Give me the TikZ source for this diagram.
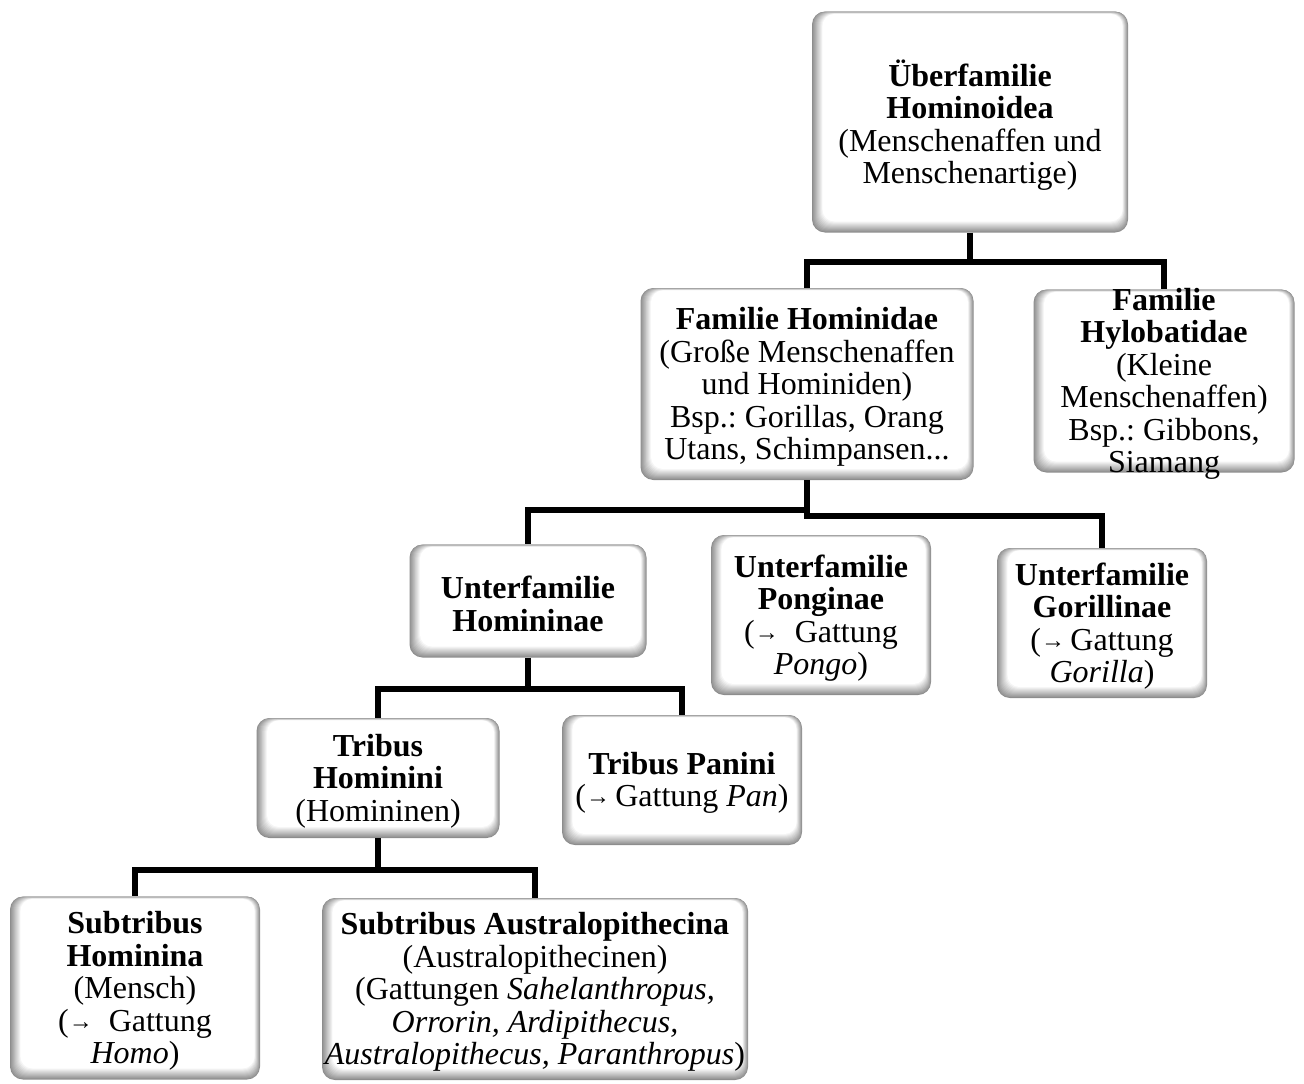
\documentclass[tikz,border=0pt]{standalone}
\usepackage{fontspec}
\setmainfont{Liberation Serif}
\usepackage{tikz}
\usetikzlibrary{calc}
\frenchspacing

\tikzset{
  taxon/.style={rounded corners=13pt, fill=black!45, inner sep=0pt,
    path picture={
      \foreach \i in {1,...,11}{
        \pgfmathsetmacro\shadeval{44-4*\i}
        \fill[black!\shadeval, rounded corners=12pt]
          ([xshift=\i*0.95pt, yshift=\i*1.0pt]path picture bounding box.south west)
          rectangle ([xshift=-\i*0.5pt, yshift=-\i*0.22pt]path picture bounding box.north east);
      }
    }},
  taxontext/.style={font=\fontsize{32}{32.5}\selectfont, align=center, inner sep=0pt, yshift=-3pt},
  link/.style={line width=5.5pt, line join=miter}
}
\newcommand\arr{\raisebox{2pt}{\fontsize{24}{24}\selectfont →}}

\begin{document}
\begin{tikzpicture}[x=1pt,y=-1pt]
\useasboundingbox (0,0) rectangle (1304,1084);

\node[taxon, minimum width=316, minimum height=221,
  label={[taxontext]center:{\textbf{Überfamilie}\\\textbf{Hominoidea}\\(Menschenaffen und\\Menschenartige)}}]
  (ueber) at (970,122) {};
\node[taxon, minimum width=333, minimum height=192,
  label={[taxontext]center:{\textbf{Familie Hominidae}\\(Große Menschenaffen\\und Hominiden)\\Bsp.: Gorillas, Orang\\Utans, Schimpansen...}}]
  (hominidae) at (807,384) {};
\node[taxon, minimum width=261, minimum height=183,
  label={[taxontext]center:{\textbf{Familie}\\\textbf{Hylobatidae}\\(Kleine\\Menschenaffen)\\Bsp.: Gibbons,\\Siamang}}]
  (hylobatidae) at (1164,381) {};

\node[taxon, minimum width=237, minimum height=113,
  label={[taxontext]center:{\textbf{Unterfamilie}\\\textbf{Homininae}}}]
  (homininae) at (528,601) {};
\node[taxon, minimum width=220, minimum height=160,
  label={[taxontext]center:{\textbf{Unterfamilie}\\\textbf{Ponginae}\\(\arr\ \ Gattung\\\textit{Pongo})}}]
  (ponginae) at (821,615) {};
\node[taxon, minimum width=210, minimum height=150,
  label={[taxontext]center:{\textbf{Unterfamilie}\\\textbf{Gorillinae}\\(\arr\,Gattung\\\textit{Gorilla})}}]
  (gorillinae) at (1102,623) {};

\node[taxon, minimum width=243, minimum height=120,
  label={[taxontext]center:{\textbf{Tribus}\\\textbf{Hominini}\\(Homininen)}}]
  (hominini) at (378,778) {};
\node[taxon, minimum width=240, minimum height=130,
  label={[taxontext]center:{\textbf{Tribus Panini}\\(\arr\,Gattung \textit{Pan})}}]
  (panini) at (682,780) {};

\node[taxon, minimum width=250, minimum height=183,
  label={[taxontext]center:{\textbf{Subtribus}\\\textbf{Hominina}\\(Mensch)\\(\arr\ \ Gattung\\\textit{Homo})}}]
  (hominina) at (135,988) {};
\node[taxon, minimum width=426, minimum height=182,
  label={[taxontext]center:{\textbf{Subtribus Australopithecina}\\(Australopithecinen)\\(Gattungen \textit{Sahelanthropus,}\\\textit{Orrorin, Ardipithecus,}\\\textit{Australopithecus, Paranthropus})}}]
  (australo) at (535,989) {};

% bars of the tree
\coordinate (bar1) at (0,262);
\coordinate (bar2) at (0,510);
\coordinate (bar2b) at (0,516);
\coordinate (bar3) at (0,689);
\coordinate (bar4) at (0,870);

\draw[link] (ueber.south) -- (ueber.south |- bar1) -| (hominidae.north);
\draw[link] (ueber.south |- bar1) -| (hylobatidae.north);

\draw[link] (hominidae.south) -- (hominidae.south |- bar2b) -| (gorillinae.north);
\draw[link] (hominidae.south |- bar2) -| (homininae.north);

\draw[link] (homininae.south) -- (homininae.south |- bar3) -| (hominini.north);
\draw[link] (homininae.south |- bar3) -| (panini.north);

\draw[link] (hominini.south) -- (hominini.south |- bar4) -| (hominina.north);
\draw[link] (hominini.south |- bar4) -| (australo.north);

\end{tikzpicture}
\end{document}
